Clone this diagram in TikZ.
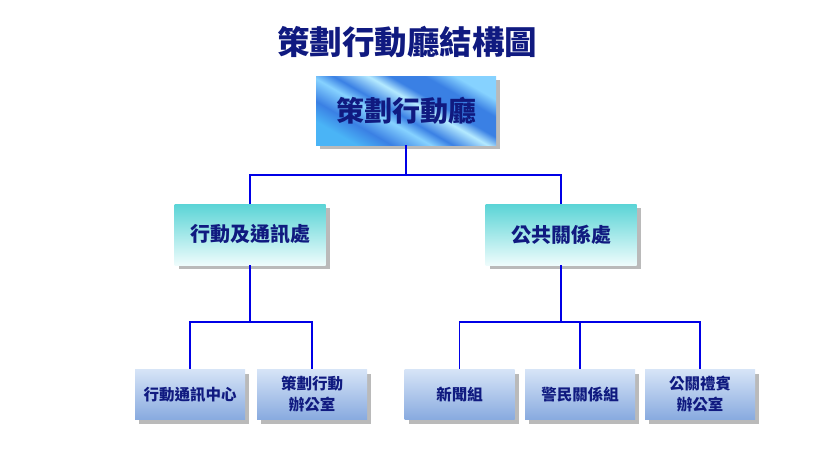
\documentclass[tikz,border=0pt]{standalone}
\usepackage{fontspec}
\usepackage{tikz}
\usetikzlibrary{shadows}
\newfontfamily\cjk{Noto Sans CJK TC}
\definecolor{navy}{HTML}{101A80}
\definecolor{wire}{HTML}{0000E6}
\definecolor{tbA}{HTML}{3A80E4}
\definecolor{tbB}{HTML}{86D2FF}
\definecolor{tbC}{HTML}{B4EAFF}
\definecolor{tbD}{HTML}{4AB4F6}
\definecolor{dtop}{HTML}{5AD4D6}
\definecolor{dbot}{HTML}{EEFCFC}
\definecolor{utop}{HTML}{D6E4F7}
\definecolor{ubot}{HTML}{88AADF}
\pgfdeclarehorizontalshading{topshine}{100bp}{color(0bp)=(tbD); color(25bp)=(tbD);
  color(33bp)=(tbA); color(42bp)=(tbB); color(47bp)=(tbA); color(55bp)=(tbC);
  color(60bp)=(tbA); color(68bp)=(tbA); color(75bp)=(tbB); color(100bp)=(tbB)}

\begin{document}
\begin{tikzpicture}[x=1pt,y=-1pt,
  box/.style={inner sep=0pt, text=navy, align=center,
    drop shadow={shadow xshift=4pt, shadow yshift=-4pt, fill=black!45, opacity=.6}},
  headbox/.style={box, minimum width=180pt, minimum height=69pt, shading=topshine,
    shading angle=60, font=\cjk\bfseries\fontsize{28}{32}\selectfont},
  deptbox/.style={box, minimum width=151pt, minimum height=61pt,
    top color=dtop, bottom color=dbot,
    font=\cjk\bfseries\fontsize{20}{24}\selectfont},
  unitbox/.style={box, minimum width=110pt, minimum height=50pt,
    top color=utop, bottom color=ubot,
    font=\cjk\bfseries\fontsize{15.5}{21}\selectfont},
  conn/.style={wire, line width=1.2pt}]
  \useasboundingbox (0,0) rectangle (814,450);
  \node at (407,42) (title) {\cjk\bfseries\fontsize{32.5}{36}\selectfont\color{navy}策劃行動廳結構圖};
  \node[headbox] at (406,110.5) (hq) {策劃行動廳};
  \node[deptbox] at (250,234.5) (ops) {行動及通訊處};
  \node[deptbox] at (561,234.5) (pr) {公共關係處};
  \node[unitbox] at (190,394.5) (u1) {行動通訊中心};
  \node[unitbox] at (312,394.5) (u2) {策劃行動\\辦公室};
  \node[unitbox] at (459.5,394.5) (u3) {新聞組};
  \node[unitbox] at (580,394.5) (u4) {警民關係組};
  \node[unitbox] at (700,394.5) (u5) {公關禮賓\\辦公室};
  \coordinate (b0) at (406,175);
  \coordinate (b1) at (250,322);
  \coordinate (b2) at (561,322);
  \draw [conn] (hq.south) -- (b0) -| (ops.north);
  \draw [conn] (b0) -| (pr.north);
  \draw [conn] (ops.south) -- (b1) -| (u1.north);
  \draw [conn] (b1) -| (u2.north);
  \draw [conn] (pr.south) -- (b2) -| (u3.north);
  \draw [conn] (b2) -| (u5.north);
  \draw [conn] (b2 -| u4.north) -- (u4.north);
\end{tikzpicture}
\end{document}
